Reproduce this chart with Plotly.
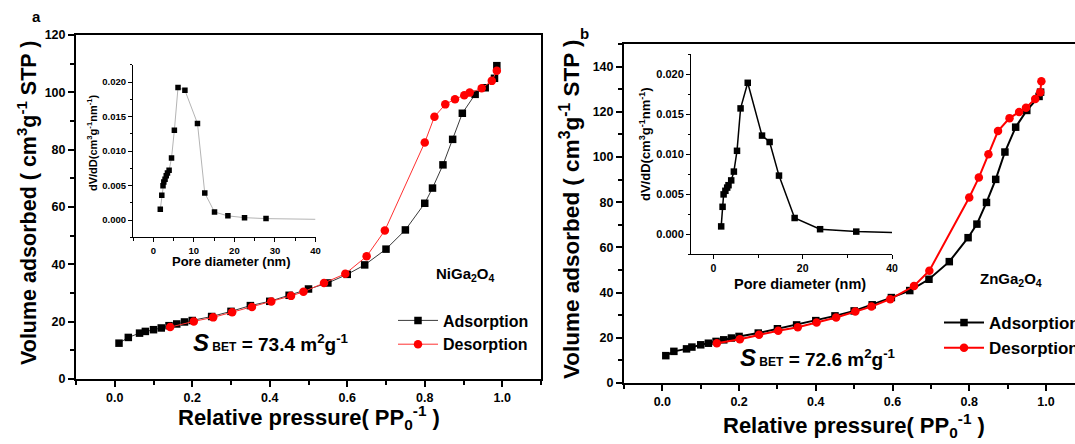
import plotly.graph_objects as go

# ---------------- data: panel a (NiGa2O4) ----------------
ads_a_p = [0.011, 0.035, 0.064, 0.079, 0.10, 0.12, 0.14, 0.16, 0.18, 0.20, 0.25, 0.30, 0.35, 0.40,
           0.45, 0.50, 0.55, 0.60, 0.645, 0.70, 0.75, 0.80, 0.82, 0.847, 0.872, 0.897, 0.93, 0.956,
           0.98, 0.986]
ads_a_v = [12.5, 14.5, 16.0, 16.6, 17.2, 17.8, 18.6, 19.2, 19.9, 20.4, 21.8, 23.6, 25.6, 27.1,
           29.2, 31.4, 33.5, 36.5, 39.8, 45.3, 52.0, 61.3, 66.6, 74.7, 83.6, 92.7, 99.3, 101.6,
           104.9, 109.3]
des_a_p = [0.986, 0.973, 0.947, 0.916, 0.902, 0.878, 0.853, 0.825, 0.80, 0.697, 0.65, 0.595,
           0.54, 0.487, 0.455, 0.404, 0.354, 0.303, 0.254, 0.204, 0.143]
des_a_v = [107.5, 104.0, 101.4, 99.9, 99.0, 97.6, 95.8, 91.5, 82.5, 51.8, 42.8, 36.7,
           33.5, 30.4, 29.0, 27.0, 25.1, 23.3, 21.5, 20.1, 18.1]
pore_a_d = [1.73, 2.1, 2.4, 2.6, 2.9, 3.2, 3.5, 3.9, 4.5, 5.2, 6.1, 7.8, 10.9, 12.7, 15.1,
            18.4, 22.5, 27.8, 40.0]
pore_a_v = [0.00155, 0.0036, 0.00497, 0.0055, 0.0059, 0.0064, 0.0068, 0.0072, 0.009, 0.013,
            0.0192, 0.0188, 0.014, 0.0039, 0.00116, 0.0006, 0.00034, 0.0002, 0.0001]

# ---------------- data: panel b (ZnGa2O4) ----------------
ads_b_p = [0.009, 0.03, 0.063, 0.077, 0.10, 0.12, 0.14, 0.16, 0.18, 0.20, 0.25, 0.30, 0.35, 0.40,
           0.45, 0.50, 0.547, 0.597, 0.645, 0.695, 0.748, 0.797, 0.82, 0.845, 0.869, 0.893,
           0.921, 0.95, 0.982, 0.986]
ads_b_v = [12.1, 14.0, 15.1, 15.9, 16.9, 17.6, 18.4, 19.1, 19.9, 20.6, 22.1, 24.0, 25.7, 27.6,
           29.7, 31.9, 34.6, 37.8, 40.9, 45.9, 53.7, 64.3, 70.3, 79.9, 90.1, 102.2,
           113.2, 120.6, 126.8, 128.7]
des_b_p = [0.988, 0.985, 0.972, 0.948, 0.93, 0.905, 0.875, 0.85, 0.825, 0.80, 0.696, 0.656,
           0.594, 0.545, 0.503, 0.453, 0.402, 0.353, 0.302, 0.252, 0.202, 0.142]
des_b_v = [133.5, 128.7, 125.7, 121.8, 119.9, 117.2, 111.5, 101.2, 90.9, 82.1, 49.7, 42.9,
           37.1, 33.8, 31.6, 29.0, 26.8, 24.7, 23.1, 21.3, 19.4, 17.6]
pore_b_d = [1.76, 2.07, 2.3, 2.7, 3.1, 3.4, 4.0, 4.6, 5.3, 6.1, 7.7, 10.9, 12.6, 14.7, 18.2,
            23.9, 32.0, 40.0]
pore_b_v = [0.00095, 0.0034, 0.00495, 0.0054, 0.0058, 0.0061, 0.0067, 0.0078, 0.0104, 0.0157,
            0.0189, 0.0123, 0.0115, 0.0073, 0.002, 0.0006, 0.0003, 0.0002]

series_names = ["Adsorption", "Desorption"]

# ---------------- layout helpers ----------------
W, H = 1075, 444
FONT = "Liberation Sans, Arial, sans-serif"


def fx(x):
    return x / W


def fy(y):
    return 1 - y / H


fig = go.Figure()

# panel a main
fig.add_trace(go.Scatter(x=ads_a_p, y=ads_a_v, mode="lines+markers", name=series_names[0],
                         line=dict(color="#3a3a3a", width=1),
                         marker=dict(symbol="square", size=7.5, color="black"),
                         xaxis="x", yaxis="y", legend="legend"))
fig.add_trace(go.Scatter(x=des_a_p, y=des_a_v, mode="lines+markers", name=series_names[1],
                         line=dict(color="#ff3030", width=1),
                         marker=dict(symbol="circle", size=8.5, color="#ff0000"),
                         xaxis="x", yaxis="y", legend="legend"))
# panel a inset
fig.add_trace(go.Scatter(x=pore_a_d, y=pore_a_v, mode="lines", showlegend=False,
                         line=dict(color="#b4b4b4", width=1), xaxis="x2", yaxis="y2"))
fig.add_trace(go.Scatter(x=pore_a_d[:-1], y=pore_a_v[:-1], mode="markers", showlegend=False,
                         marker=dict(symbol="square", size=5.5, color="black"),
                         xaxis="x2", yaxis="y2"))
# panel b main
fig.add_trace(go.Scatter(x=ads_b_p, y=ads_b_v, mode="lines+markers", name=series_names[0],
                         line=dict(color="black", width=2),
                         marker=dict(symbol="square", size=7.5, color="black"),
                         xaxis="x3", yaxis="y3", legend="legend2"))
fig.add_trace(go.Scatter(x=des_b_p, y=des_b_v, mode="lines+markers", name=series_names[1],
                         line=dict(color="#ff0000", width=2),
                         marker=dict(symbol="circle", size=8.5, color="#ff0000"),
                         xaxis="x3", yaxis="y3", legend="legend2"))
# panel b inset
fig.add_trace(go.Scatter(x=pore_b_d, y=pore_b_v, mode="lines", showlegend=False,
                         line=dict(color="black", width=1.5), xaxis="x4", yaxis="y4"))
fig.add_trace(go.Scatter(x=pore_b_d[:-1], y=pore_b_v[:-1], mode="markers", showlegend=False,
                         marker=dict(symbol="square", size=6.5, color="black"),
                         xaxis="x4", yaxis="y4"))


def main_axis(domain, rng, dtick, minor, fmt, anchor, mirror=True):
    return dict(domain=domain, range=rng, anchor=anchor, showline=True, linewidth=2,
                linecolor="black", mirror=mirror, ticks="outside", ticklen=6, tickwidth=1.5,
                tickcolor="black", tick0=0, dtick=dtick, tickformat=fmt, showgrid=False,
                zeroline=False, automargin=False,
                tickfont=dict(family=FONT, size=12.5, color="black", weight="bold"),
                minor=dict(dtick=minor, ticks="outside", ticklen=4, tickwidth=1.5,
                           tickcolor="black", showgrid=False))


def inset_axis(domain, rng, dtick, minor, fmt, anchor, size):
    return dict(domain=domain, range=rng, anchor=anchor, showline=True, linewidth=1,
                linecolor="black", mirror=False, ticks="outside", ticklen=4, tickwidth=1,
                tickcolor="black", tick0=0, dtick=dtick, tickformat=fmt, showgrid=False,
                zeroline=False, automargin=False,
                tickfont=dict(family=FONT, size=size, color="black", weight="bold"),
                minor=dict(dtick=minor, ticks="outside", ticklen=2.5, tickwidth=1,
                           tickcolor="black", showgrid=False))


fig.update_layout(
    width=W, height=H, margin=dict(l=0, r=0, t=0, b=0, autoexpand=False),
    paper_bgcolor="white", plot_bgcolor="white",
    xaxis=main_axis([fx(76), fx(541)], [-0.1, 1.1], 0.2, 0.1, ".1f", "y"),
    yaxis=main_axis([fy(379), fy(35)], [0, 120], 20, 10, "d", "x"),
    xaxis2=inset_axis([fx(133), fx(315.5)], [-5, 40], 10, 5, "d", "y2", 9.5),
    yaxis2=inset_axis([fy(237.25), fy(64.75)], [-0.0025, 0.0225], 0.005, 0.0025, ".3f", "x2", 9.5),
    xaxis3=main_axis([fx(624), 1.0], [-0.1, 1.0757], 0.2, 0.1, ".1f", "y3"),
    yaxis3=main_axis([fy(383), fy(44)], [0, 150], 20, 10, "d", "x3", mirror=False),
    xaxis4=inset_axis([fx(691), fx(892)], [-5, 40], 20, 10, "d", "y4", 10.5),
    yaxis4=inset_axis([fy(254), fy(54)], [-0.0025, 0.0225], 0.005, 0.0025, ".3f", "x4", 11),
    legend=dict(x=fx(393), y=fy(303.5), xanchor="left", yanchor="top", bgcolor="rgba(0,0,0,0)",
                itemwidth=40, font=dict(family=FONT, size=16, color="black", weight="bold")),
    legend2=dict(x=fx(939), y=fy(305), xanchor="left", yanchor="top", bgcolor="rgba(0,0,0,0)",
                 itemwidth=40, font=dict(family=FONT, size=17, color="black", weight="bold")),
)

ann = []


def add_text(text, x, y, size, angle=0, xanchor="center", yanchor="middle"):
    ann.append(dict(text=text, x=fx(x), y=fy(y), xref="paper", yref="paper", showarrow=False,
                    xanchor=xanchor, yanchor=yanchor, textangle=angle,
                    font=dict(family=FONT, size=size, color="black")))


add_text("<b>a</b>", 36, 17, 15)
add_text("<b>b</b>", 584, 33, 15)
add_text("<b>Volume adsorbed ( cm<sup>3</sup>g<sup>-1</sup> STP )</b>", 27, 203, 21.5, angle=-90)
add_text("<b>Volume adsorbed ( cm<sup>3</sup>g<sup>-1</sup> STP )</b>", 570, 209, 22.5, angle=-90)
add_text("<b>Relative pressure( PP<sub>0</sub><sup>-1</sup> )</b>", 309, 417, 22)
add_text("<b>Relative pressure( PP<sub>0</sub><sup>-1</sup> )</b>", 854, 425, 22)
add_text("<b>Pore diameter (nm)</b>", 231, 261, 13)
add_text("<b>Pore diameter (nm)</b>", 800, 284, 14.5)
add_text("<b>dV/dD(cm<sup>3</sup>g<sup>-1</sup>nm<sup>-1</sup>)</b>", 92, 143, 11, angle=-90)
add_text("<b>dV/dD(cm<sup>3</sup>g<sup>-1</sup>nm<sup>-1</sup>)</b>", 645, 144, 13, angle=-90)
add_text("<b>NiGa<sub>2</sub>O<sub>4</sub></b>", 465, 274, 15)
add_text("<b>ZnGa<sub>2</sub>O<sub>4</sub></b>", 1011, 279, 15)
add_text("<b><i><span style='font-size:24px'>S</span></i><span style='font-size:12px'> BET</span>"
         " = 73.4 m<sup>2</sup>g<sup>-1</sup></b>", 271, 342, 19)
add_text("<b><i><span style='font-size:24px'>S</span></i><span style='font-size:12px'> BET</span>"
         " = 72.6 m<sup>2</sup>g<sup>-1</sup></b>", 818, 357, 19)
fig.update_layout(annotations=ann)

fig.write_html("out.html", config={"displayModeBar": False},
               post_script="document.body.style.margin='0px';")
